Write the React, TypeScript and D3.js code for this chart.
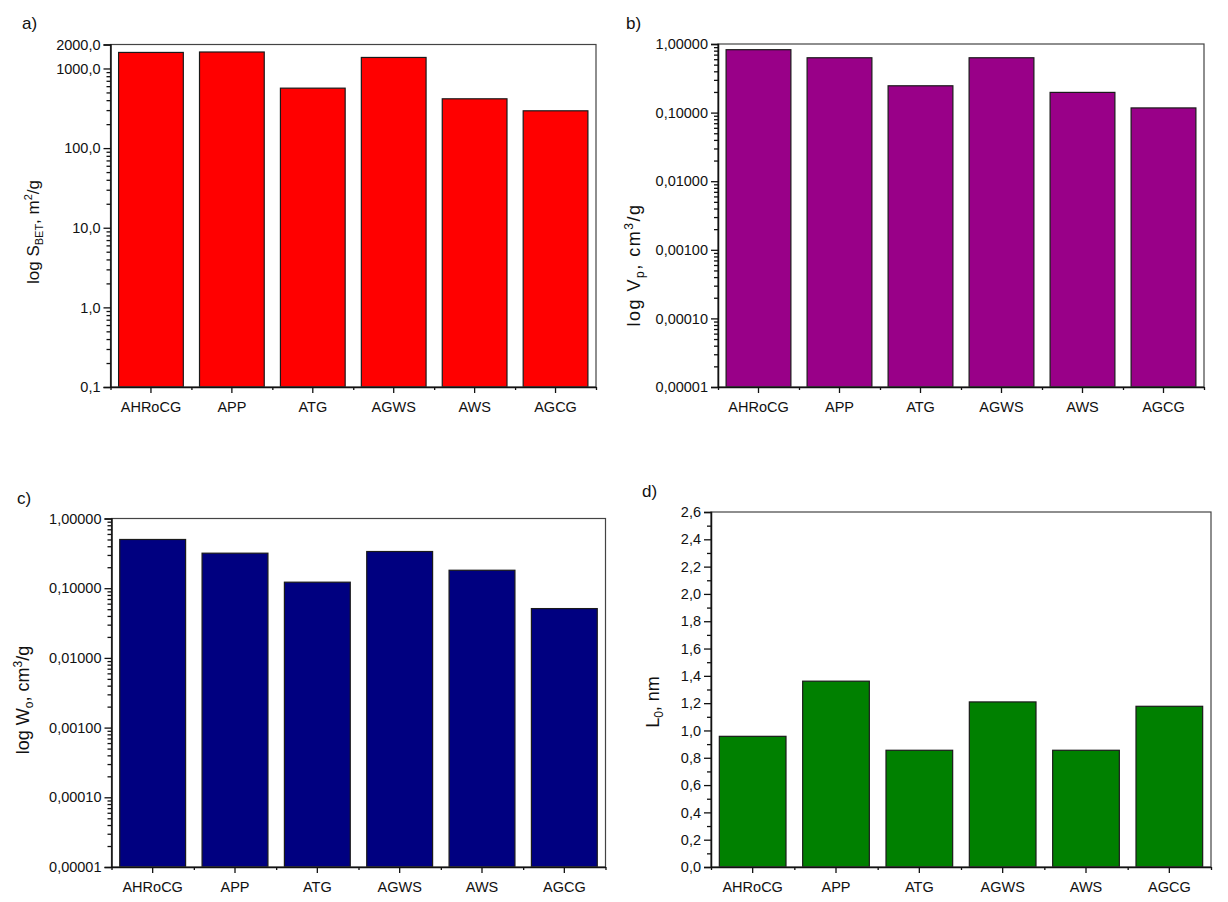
import React, { useEffect, useRef } from "react";
import * as d3 from "d3";

// samples
const categories = ["AHRoCG", "APP", "ATG", "AGWS", "AWS", "AGCG"];

// a) specific surface, m2/g
const sBet = [1590, 1610, 566, 1375, 416, 294];
const ticksA = [0.1, 1, 10, 100, 1000, 2000];

// b) total pore volume, cm3/g
const vP = [0.826, 0.63, 0.246, 0.63, 0.197, 0.117];
// c) micropore volume, cm3/g
const w0 = [0.5, 0.318, 0.122, 0.336, 0.181, 0.051];
const ticksVol = [0.00001, 0.0001, 0.001, 0.01, 0.1, 1];

// d) micropore width, nm
const l0 = [0.957, 1.361, 0.855, 1.209, 0.855, 1.177];
const ticksD = [0, 0.2, 0.4, 0.6, 0.8, 1.0, 1.2, 1.4, 1.6, 1.8, 2.0, 2.2, 2.4, 2.6];
const minorD = [0.1, 0.3, 0.5, 0.7, 0.9, 1.1, 1.3, 1.5, 1.7, 1.9, 2.1, 2.3, 2.5];

const FONT = "'Liberation Sans', Arial, sans-serif";

type Part = { text: string; shift?: "sub" | "sup" };

type Panel = {
  label: string;
  labelX: number;
  labelY: number;
  left: number;
  right: number;
  top: number;
  bottom: number;
  values: number[];
  color: string;
  log: boolean;
  domain: [number, number];
  ticks: number[];
  minor?: number[];
  decimals: number;
  title: Part[];
  titleX: number;
  titleY: number;
  titleSize: number;
  titleSpacing: number;
};

const panels: Panel[] = [
  {
    label: "a)", labelX: 22, labelY: 29,
    left: 110.5, right: 596, top: 44.5, bottom: 387,
    values: sBet, color: "#ff0000", log: true, domain: [0.1, 2000],
    ticks: ticksA, decimals: 1,
    title: [{ text: "log S" }, { text: "BET", shift: "sub" }, { text: ", m" }, { text: "2", shift: "sup" }, { text: "/g" }],
    titleX: 39, titleY: 232, titleSize: 17, titleSpacing: 0,
  },
  {
    label: "b)", labelX: 626, labelY: 29,
    left: 718, right: 1204, top: 44, bottom: 387,
    values: vP, color: "#990088", log: true, domain: [0.00001, 1],
    ticks: ticksVol, decimals: 5,
    title: [{ text: "log V" }, { text: "p", shift: "sub" }, { text: ", cm" }, { text: "3", shift: "sup" }, { text: "/g" }],
    titleX: 640, titleY: 265, titleSize: 18, titleSpacing: 1.5,
  },
  {
    label: "c)", labelX: 17, labelY: 504,
    left: 111.5, right: 605.5, top: 518.5, bottom: 867,
    values: w0, color: "#000080", log: true, domain: [0.00001, 1],
    ticks: ticksVol, decimals: 5,
    title: [{ text: "log W" }, { text: "o", shift: "sub" }, { text: ", cm" }, { text: "3", shift: "sup" }, { text: "/g" }],
    titleX: 29, titleY: 700, titleSize: 18, titleSpacing: 0,
  },
  {
    label: "d)", labelX: 642, labelY: 497,
    left: 711, right: 1211, top: 512, bottom: 867,
    values: l0, color: "#008000", log: false, domain: [0, 2.6],
    ticks: ticksD, minor: minorD, decimals: 1,
    title: [{ text: "L" }, { text: "0", shift: "sub" }, { text: ", nm" }],
    titleX: 659, titleY: 702, titleSize: 18, titleSpacing: 0,
  },
];

function drawPanel(svg: d3.Selection<SVGSVGElement, unknown, null, undefined>, p: Panel) {
  const g = svg.append("g");

  const x = d3.scaleBand<string>()
    .domain(categories)
    .range([p.left, p.right])
    .paddingInner(0.2)
    .paddingOuter(0.1);

  const y: any = p.log
    ? d3.scaleLog().domain(p.domain).range([p.bottom, p.top])
    : d3.scaleLinear().domain(p.domain).range([p.bottom, p.top]);

  // minor ticks: 2..9 per decade for log axes
  let minor = p.minor || [];
  if (p.log) {
    minor = [];
    const lo = Math.floor(Math.log10(p.domain[0]));
    const hi = Math.ceil(Math.log10(p.domain[1]));
    for (let e = lo; e < hi; e++) {
      for (let m = 2; m <= 9; m++) {
        const v = m * Math.pow(10, e);
        if (v > p.domain[0] && v < p.domain[1]) minor.push(v);
      }
    }
  }

  const fmt = (d: number) => d3.format(`.${p.decimals}f`)(d).replace(".", ",");

  // bars
  g.selectAll("rect.bar")
    .data(p.values)
    .join("rect")
    .attr("class", "bar")
    .attr("x", (_, i) => x(categories[i])!)
    .attr("width", x.bandwidth())
    .attr("y", (d) => y(d))
    .attr("height", (d) => y(p.domain[0]) - y(d))
    .attr("fill", p.color)
    .attr("stroke", "#1a1a1a")
    .attr("stroke-width", 1.2);

  // frame
  g.append("rect")
    .attr("x", p.left)
    .attr("y", p.top)
    .attr("width", p.right - p.left)
    .attr("height", p.bottom - p.top)
    .attr("fill", "none")
    .attr("stroke", "#444")
    .attr("stroke-width", 1.2);

  // y axis
  const yAxis = g.append("g")
    .attr("transform", `translate(${p.left},0)`)
    .call(d3.axisLeft(y).tickValues(p.ticks).tickFormat(fmt as any).tickSize(7).tickPadding(3));
  g.append("g")
    .attr("transform", `translate(${p.left},0)`)
    .call(d3.axisLeft(y).tickValues(minor).tickFormat(() => "").tickSize(4))
    .call((s) => s.select(".domain").remove());

  // x axis
  const xAxis = g.append("g")
    .attr("transform", `translate(0,${p.bottom})`)
    .call(d3.axisBottom(x).tickSize(6).tickPadding(9).tickSizeOuter(0));
  const bounds = d3.scaleLinear().domain([0, categories.length]).range([p.left, p.right]);
  g.append("g")
    .attr("transform", `translate(0,${p.bottom})`)
    .call(d3.axisBottom(bounds).tickValues(d3.range(0, categories.length + 1)).tickFormat(() => "").tickSize(3).tickSizeOuter(0))
    .call((s) => s.select(".domain").remove());

  [yAxis, xAxis].forEach((a) => {
    a.select(".domain").attr("stroke", "#111").attr("stroke-width", 1.5);
    a.selectAll("text").style("font-family", FONT).style("font-size", "14.5px").attr("fill", "#111");
  });
  g.selectAll(".tick line").attr("stroke", "#111").attr("stroke-width", 1.3);

  // axis title
  const t = g.append("text")
    .attr("transform", `translate(${p.titleX},${p.titleY}) rotate(-90)`)
    .attr("text-anchor", "middle")
    .style("font-family", FONT)
    .style("font-size", `${p.titleSize}px`)
    .style("letter-spacing", `${p.titleSpacing}px`)
    .attr("fill", "#111");
  let shifted = 0;
  p.title.forEach((part) => {
    const target = part.shift === "sub" ? 4 : part.shift === "sup" ? -7 : 0;
    t.append("tspan")
      .attr("dy", target - shifted)
      .style("font-size", part.shift ? `${Math.round(p.titleSize * 0.65)}px` : `${p.titleSize}px`)
      .text(part.text);
    shifted = target;
  });

  // panel label
  g.append("text")
    .attr("x", p.labelX)
    .attr("y", p.labelY)
    .style("font-family", FONT)
    .style("font-size", "17px")
    .attr("fill", "#111")
    .text(p.label);
}

export default function App() {
  const ref = useRef<SVGSVGElement>(null);

  useEffect(() => {
    const svg = d3.select(ref.current!);
    svg.selectAll("*").remove();
    panels.forEach((p) => drawPanel(svg, p));
  }, []);

  return (
    <svg
      ref={ref}
      width={1228}
      height={902}
      style={{ position: "absolute", left: 0, top: 0, background: "#fff" }}
    />
  );
}
